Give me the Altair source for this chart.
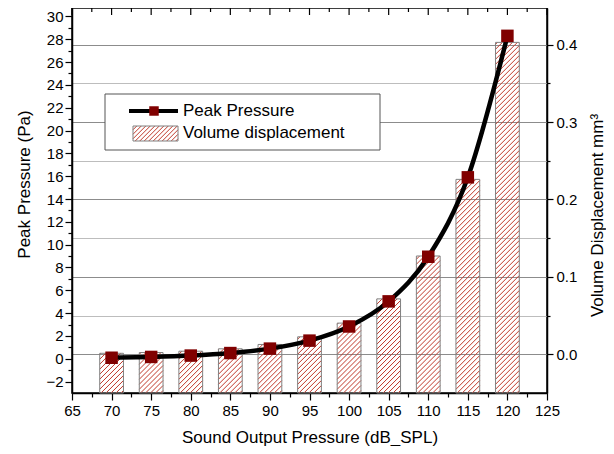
import altair as alt
import pandas as pd

# ---------------- data ----------------
db = [70, 75, 80, 85, 90, 95, 100, 105, 110, 115, 120]
peak_pressure = [0.09, 0.16, 0.28, 0.50, 0.89, 1.59, 2.83, 5.03, 8.94, 15.9, 28.3]
volume = [0.0013, 0.0023, 0.0040, 0.0071, 0.0127, 0.0226, 0.0403, 0.0716, 0.127, 0.226, 0.403]

x_tick_values = [65, 67.5, 70, 72.5, 75, 77.5, 80, 82.5, 85, 87.5, 90, 92.5, 95,
                 97.5, 100, 102.5, 105, 107.5, 110, 112.5, 115, 117.5, 120, 122.5, 125]
x_major = [65, 70, 75, 80, 85, 90, 95, 100, 105, 110, 115, 120, 125]
x_minor = [67.5, 72.5, 77.5, 82.5, 87.5, 92.5, 97.5, 102.5, 107.5, 112.5, 117.5, 122.5]
left_tick_values = [-2, -1, 0, 1, 2, 3, 4, 5, 6, 7, 8, 9, 10, 11, 12, 13, 14, 15, 16,
                    17, 18, 19, 20, 21, 22, 23, 24, 25, 26, 27, 28, 29, 30]
right_tick_values = [0.0, 0.05, 0.1, 0.15, 0.2, 0.25, 0.3, 0.35, 0.4]

# ---------------- layout / style ----------------
W, H = 475, 385
X_DOM = [65, 125]
L_DOM = [-3, 30.74]
R_DOM = [-0.05, 0.4474]
BAR_HALF = 1.5
HATCH_STEP = 5.0
HATCH_COLOR = "#c0392b"
FONT = "Liberation Sans"
LABEL_FS = 15
TITLE_FS = 17

sx = W / (X_DOM[1] - X_DOM[0])
sy = H / (R_DOM[1] - R_DOM[0])


def hatch_segments(w, h, step):
    segs = []
    k = -w + step / 2
    while k < h:
        x0 = max(0.0, -k)
        x1 = min(w, h - k)
        if x1 - x0 > 0.3:
            segs.append((x0, x0 + k, x1, x1 + k))
        k += step
    return segs


bars = pd.DataFrame({"db": db, "vol": volume})
bars["x0"] = bars["db"] - BAR_HALF
bars["x1"] = bars["db"] + BAR_HALF

rows = []
for c, v in zip(db, volume):
    left = c - BAR_HALF
    for X0, Y0, X1, Y1 in hatch_segments(2 * BAR_HALF * sx, (v - R_DOM[0]) * sy, HATCH_STEP):
        rows.append({"hx": left + X0 / sx, "hy": R_DOM[0] + Y0 / sy,
                     "hx2": left + X1 / sx, "hy2": R_DOM[0] + Y1 / sy})
hatch = pd.DataFrame(rows)

line_df = pd.DataFrame({"db": db, "p": peak_pressure})

xscale = alt.Scale(domain=X_DOM, nice=False, zero=False)
lscale = alt.Scale(domain=L_DOM, nice=False, zero=False)
rscale = alt.Scale(domain=R_DOM, nice=False, zero=False)

x_axis = alt.Axis(
    title="Sound Output Pressure (dB_SPL)", values=x_tick_values,
    labelExpr="datum.value % 5 === 0 ? datum.label : ''",
    tickSize={"condition": {"test": "datum.value % 5 === 0", "value": 7}, "value": 4},
    grid=False, labelOverlap=False, labelFlush=False, labelFontSize=LABEL_FS, titleFontSize=TITLE_FS,
    titleFontWeight="normal", domainColor="black", domainWidth=1.5, tickColor="black",
    tickWidth=1.2, labelColor="black", titleColor="black", labelPadding=3,
    titleX=W / 2, titleY=44, titleAlign="center", titleBaseline="middle",
    labelFont=FONT, titleFont=FONT,
)

left_axis = alt.Axis(
    title="Peak Pressure (Pa)", orient="left", values=left_tick_values,
    labelExpr="datum.value % 2 === 0 ? datum.label : ''",
    tickSize={"condition": {"test": "datum.value % 2 === 0", "value": 7}, "value": 4},
    grid=False, labelOverlap=False, labelFlush=False, labelFontSize=LABEL_FS, titleFontSize=TITLE_FS,
    titleFontWeight="normal", domainColor="black", domainWidth=1.5, tickColor="black",
    tickWidth=1.2, labelColor="black", titleColor="black", labelPadding=2,
    titleX=-48, titleY=176, titleAlign="center", titleBaseline="middle", titleAngle=270,
    labelFont=FONT, titleFont=FONT,
)

major_r = "abs(datum.value*10 - round(datum.value*10)) < 0.001"
right_axis = alt.Axis(
    title="Volume Displacement mm³", orient="right", values=right_tick_values, format=".1f",
    labelExpr=major_r + " ? datum.label : ''",
    tickSize={"condition": {"test": major_r, "value": 6}, "value": 3},
    grid=True,
    gridColor={"condition": {"test": major_r, "value": "#8c8c8c"}, "value": "#bdbdbd"},
    gridWidth=1,
    labelOverlap=False, labelFlush=False, labelFontSize=LABEL_FS, titleFontSize=TITLE_FS,
    titleFontWeight="normal", domainColor="black", domainWidth=1.5, tickColor="black",
    tickWidth=1.2, labelColor="black", titleColor="black", labelPadding=3,
    titleX=50, titleY=207, titleAlign="center", titleBaseline="middle", titleAngle=270,
    labelFont=FONT, titleFont=FONT,
)

# bars: hatch + outline (right axis)
hatch_layer = alt.Chart(hatch).mark_rule(color=HATCH_COLOR, strokeWidth=1).encode(
    x=alt.X("hx:Q", scale=xscale, axis=x_axis),
    x2="hx2:Q",
    y=alt.Y("hy:Q", scale=rscale, axis=None),
    y2="hy2:Q",
)

bar_layer = alt.Chart(bars).mark_rect(fillOpacity=0, stroke="#808080", strokeWidth=1).encode(
    x=alt.X("x0:Q", scale=xscale, axis=x_axis),
    x2="x1:Q",
    y=alt.Y("vol:Q", scale=rscale, axis=right_axis),
    y2=alt.datum(R_DOM[0]),
)

# top inward ticks
top_major = alt.Chart(pd.DataFrame({"t": x_major})).mark_rule(color="black", strokeWidth=1.2).encode(
    x=alt.X("t:Q", scale=xscale, axis=x_axis), y=alt.value(0), y2=alt.value(7)
)
top_minor = alt.Chart(pd.DataFrame({"t": x_minor})).mark_rule(color="black", strokeWidth=1.2).encode(
    x=alt.X("t:Q", scale=xscale, axis=x_axis), y=alt.value(0), y2=alt.value(4)
)

# peak pressure line (left axis)
line_layer = alt.Chart(line_df).mark_line(color="black", strokeWidth=4.5, interpolate="monotone").encode(
    x=alt.X("db:Q", scale=xscale, axis=x_axis),
    y=alt.Y("p:Q", scale=lscale, axis=left_axis),
)
point_layer = alt.Chart(line_df).mark_square(color="#800000", size=156, opacity=1).encode(
    x=alt.X("db:Q", scale=xscale, axis=x_axis),
    y=alt.Y("p:Q", scale=lscale, axis=None),
)

# legend
one = pd.DataFrame({"a": [0]})
leg_box = alt.Chart(one).mark_rect(fill="white", stroke="#555555", strokeWidth=1).encode(
    x=alt.value(33), x2=alt.value(308), y=alt.value(86), y2=alt.value(142)
)
leg_line = alt.Chart(one).mark_rule(color="black", strokeWidth=4).encode(
    x=alt.value(57), x2=alt.value(106), y=alt.value(103)
)
leg_pt = alt.Chart(one).mark_square(color="#800000", size=90, opacity=1).encode(
    x=alt.value(82), y=alt.value(103)
)
leg_t1 = alt.Chart(one).mark_text(align="left", baseline="middle", fontSize=TITLE_FS, font=FONT, color="black").encode(
    x=alt.value(111), y=alt.value(103), text=alt.value("Peak Pressure")
)
leg_t2 = alt.Chart(one).mark_text(align="left", baseline="middle", fontSize=TITLE_FS, font=FONT, color="black").encode(
    x=alt.value(111), y=alt.value(125), text=alt.value("Volume displacement")
)
LX0, LX1, LY0, LY1 = 61, 106, 118, 133
lrows = []
for X0, Y0, X1, Y1 in hatch_segments(LX1 - LX0, LY1 - LY0, 4.5):
    lrows.append({"px": LX0 + X0, "py": LY1 - Y0, "px2": LX0 + X1, "py2": LY1 - Y1})
leg_hatch = alt.Chart(pd.DataFrame(lrows)).mark_rule(color=HATCH_COLOR, strokeWidth=1).encode(
    x=alt.X("px:Q", scale=None), x2="px2:Q",
    y=alt.Y("py:Q", scale=None), y2="py2:Q",
)
leg_rect = alt.Chart(one).mark_rect(fillOpacity=0, stroke="#808080", strokeWidth=1).encode(
    x=alt.value(LX0), x2=alt.value(LX1), y=alt.value(LY0), y2=alt.value(LY1)
)

chart = alt.layer(
    hatch_layer, bar_layer, top_major, top_minor, leg_box,
    line_layer, point_layer, leg_line, leg_pt, leg_t1, leg_t2, leg_hatch, leg_rect,
).resolve_scale(y="independent").properties(
    width=W, height=H,
    autosize=alt.AutoSizeParams(type="none"),
    padding={"left": 64, "top": 0, "right": 59, "bottom": 53},
).configure(font=FONT).configure_view(stroke="black", strokeWidth=1.5)

chart.save("out.html", embed_options={"renderer": "svg", "actions": False})
